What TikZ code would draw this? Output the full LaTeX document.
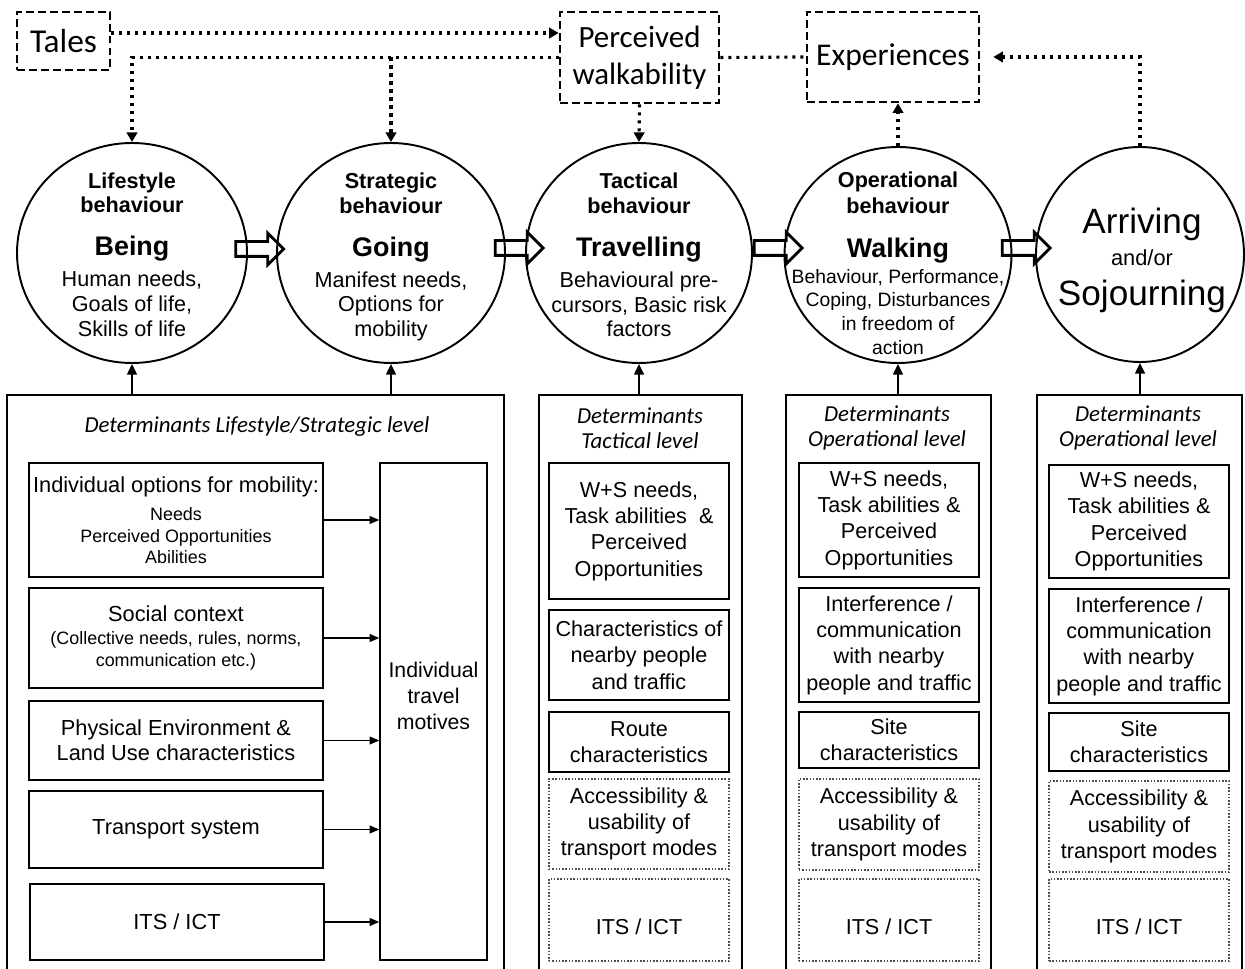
\documentclass[tikz,border=0pt]{standalone}
\usepackage{fontspec}
\setmainfont{Liberation Sans}
\newfontfamily\calibri{Carlito}
\usepackage{xcolor}
\usepackage{tikz}
\usetikzlibrary{positioning, shapes.geometric, shapes.arrows, arrows.meta}
\definecolor{grisPunto}{HTML}{4D4D4D}

\begin{document}
\begin{tikzpicture}[
    level/.style={ellipse, draw, line width=1.1pt, inner sep=0pt},
    leveltext/.style={align=center, font=\fontsize{12.3}{14}\selectfont},
    story/.style={
        rectangle,
        draw,
        line width=1.5pt,
        dash pattern=on 4.5pt off 2.3pt,
        align=center,
        inner sep=0pt,
    },
    outer/.style={rectangle, draw, line width=1.1pt, minimum height=11.55cm},
    heading/.style={align=center, font=\calibri\itshape\fontsize{13}{14.2}\selectfont},
    factor/.style={rectangle, draw, line width=0.85pt, align=center, inner sep=0pt},
    leftfactor/.style={factor, minimum width=5.88cm, font=\fontsize{12.4}{14.2}\selectfont},
    colfactor/.style={factor, minimum width=3.6cm, font=\fontsize{12.3}{15}\selectfont},
    weak/.style={colfactor, draw=grisPunto, densely dotted, line width=0.6pt},
    ictbox/.style={weak, minimum height=1.64cm, text height=17pt},
    flow/.style={
        single arrow,
        draw,
        line width=1.6pt,
        inner xsep=0pt,
        inner ysep=0.12cm,
        single arrow head extend=0.17cm,
        minimum height=0.96cm,
    },
    feed/.style={-{Triangle[length=6pt, width=5.5pt]}, line width=1.1pt},
    input/.style={-{Triangle[length=5.5pt, width=4.5pt]}, line width=0.7pt},
    hint/.style={-{Triangle[length=5.5pt, width=6pt]}, line width=1.8pt, dash pattern=on 1.8pt off 2.75pt},
    hintline/.style={line width=1.8pt, dash pattern=on 1.8pt off 2.75pt},
]
\useasboundingbox (0,0) rectangle (24.9,-19.38);
\clip (0,0) rectangle (24.9,-19.38);

% top boxes
\node[story, minimum width=1.86cm, minimum height=1.16cm, font=\calibri\fontsize{19}{22}\selectfont] (tales) at (1.27,-0.82) {Tales};
\node[story, minimum width=3.18cm, minimum height=1.82cm, font=\calibri\fontsize{17.6}{21}\selectfont] (walk) at (12.79,-1.15) {Perceived\\walkability};
\node[story, minimum width=3.44cm, minimum height=1.80cm, font=\calibri\fontsize{18}{21}\selectfont] (exper) at (17.86,-1.14) {Experiences};

% behaviour levels
\node[level, minimum width=4.6cm,  minimum height=4.4cm]  (c1) at (2.64,-5.06) {};
\node[level, minimum width=4.56cm, minimum height=4.4cm]  (c2) at (7.82,-5.06) {};
\node[level, minimum width=4.52cm, minimum height=4.4cm]  (c3) at (12.78,-5.06) {};
\node[level, minimum width=4.54cm, minimum height=4.32cm] (c4) at (17.96,-5.10) {};
\node[level, minimum width=4.16cm, minimum height=4.3cm]  (c5) at (22.8,-5.09) {};

\node[leveltext] (t1) at (2.64,-5.09) {\textbf{Lifestyle}\\\textbf{behaviour}\\[10.5pt]\textbf{\fontsize{15.3}{18}\selectfont Being}\\[3.6pt]Human needs,\\Goals of life,\\Skills of life};
\node[leveltext] (t2) at (7.82,-5.14) {\textbf{Strategic}\\\textbf{behaviour}\\[10.5pt]\textbf{\fontsize{15.3}{18}\selectfont Going}\\[3.6pt]Manifest needs,\\Options for\\mobility};
\node[leveltext] (t3) at (12.78,-5.1) {\textbf{Tactical}\\\textbf{behaviour}\\[10.5pt]\textbf{\fontsize{15.3}{18}\selectfont Travelling}\\[3.6pt]Behavioural pre-\\cursors, Basic risk\\factors};
\node[leveltext, font=\fontsize{11}{13.4}\selectfont] (t4) at (17.96,-5.26) {\textbf{\fontsize{12.3}{14}\selectfont Operational}\\[1.4pt]\textbf{\fontsize{12.3}{14}\selectfont behaviour}\\[11.6pt]\textbf{\fontsize{15.3}{18}\selectfont Walking}\\[1.4pt]Behaviour, Performance,\\Coping, Disturbances\\in freedom of\\action};
\node[leveltext, font=\fontsize{20}{18.2}\selectfont] (t5) at (22.84,-5.2) {Arriving\\\fontsize{12.4}{15}\selectfont and/or\\[4.6pt]Sojourning};

\node[flow] (f12) at (5.12,-4.98) {};
\node[flow] (f23) at (10.31,-4.96) {};
\node[flow] (f34) at (15.49,-4.96) {};
\node[flow] (f45) at (20.45,-4.96) {};

% dotted links
\coordinate (talesrow) at (0,-0.66);
\draw[hint] (tales.east |- talesrow) -- (walk.west |- talesrow);
\draw[hint] (walk.west) -| (c1.north);
\draw[hint] (c2.north |- walk.west) -- (c2.north);
\draw[hintline] (walk.east) -- (exper.west);
\draw[hint] (walk.south) -- (c3.north);
\draw[hint] (c4.north) -- (c4.north |- exper.south);
\draw[hint, shorten >=0.26cm] (c5.north) |- (exper.east);

% determinants
\node[outer, minimum width=9.94cm] (boxA) at (5.11,-13.675) {};
\node[outer, minimum width=4.06cm] (boxC) at (12.81,-13.675) {};
\node[outer, minimum width=4.1cm]  (boxD) at (17.77,-13.675) {};
\node[outer, minimum width=4.1cm]  (boxE) at (22.79,-13.675) {};

\node[heading] (hA) at (5.14,-8.54)  {Determinants Lifestyle/Strategic level};
\node[heading] (hC) at (12.8,-8.56)  {Determinants\\Tactical level};
\node[heading] (hD) at (17.74,-8.56) {Determinants\\Operational level};
\node[heading] (hE) at (22.76,-8.56) {Determinants\\Operational level};

\draw[feed] (c1.south |- boxA.north) -- (c1.south);
\draw[feed] (c2.south |- boxA.north) -- (c2.south);
\draw[feed] (c3.south |- boxC.north) -- (c3.south);
\draw[feed] (c4.south |- boxD.north) -- (c4.south);
\draw[feed] (c5.south |- boxE.north) -- (c5.south);

% lifestyle / strategic factors
\node[leftfactor, minimum height=2.28cm, font=\fontsize{10.2}{12}\selectfont] (optA) at (3.52,-10.4) {\fontsize{12.4}{15}\selectfont Individual options for mobility:\\[4.2pt]Needs\\Perceived Opportunities\\Abilities};
\node[leftfactor, minimum height=2.0cm, font=\fontsize{10.2}{12.5}\selectfont] (socA) at (3.52,-12.76) {\fontsize{12.4}{15}\selectfont Social context\\[0.9pt](Collective needs, rules, norms,\\communication etc.)};
\node[leftfactor, minimum height=1.58cm] (physA)  at (3.52,-14.81) {Physical Environment \&\\Land Use characteristics};
\node[leftfactor, minimum height=1.54cm] (transA) at (3.52,-16.59) {Transport system};
\node[leftfactor, minimum height=1.52cm] (itsA)   at (3.54,-18.44) {ITS / ICT};
\node[factor, minimum width=2.14cm, minimum height=9.94cm] (motiv) at (8.67,-14.23) {};
\node[align=center, font=\fontsize{12.1}{14.8}\selectfont] (motivtext) at (8.67,-13.92) {Individual\\travel\\motives};

\draw[input] (optA.east)   -- (optA.east -| motiv.west);
\draw[input] (socA.east)   -- (socA.east -| motiv.west);
\draw[input] (physA.east)  -- (physA.east -| motiv.west);
\draw[input] (transA.east) -- (transA.east -| motiv.west);
\draw[input] (itsA.east)   -- (itsA.east -| motiv.west);

% tactical factors
\node[colfactor, minimum height=2.72cm] (tacNeeds)  at (12.78,-10.62) {W+S needs,\\Task abilities\ \ \&\\Perceived\\Opportunities};
\node[colfactor, minimum height=1.8cm]  (tacPeople) at (12.78,-13.1)  {Characteristics of\\nearby people\\and traffic};
\node[colfactor, minimum height=1.2cm]  (tacRoute)  at (12.78,-14.84) {Route\\characteristics};
\node[weak, minimum height=1.8cm]       (tacAccess) at (12.78,-16.48) {Accessibility \&\\usability of\\transport modes};
\node[ictbox]                           (tacIts)    at (12.78,-18.4)  {ITS / ICT};

% operational factors (walking)
\node[colfactor, minimum height=2.28cm] (opNeeds)  at (17.78,-10.4)  {W+S needs,\\Task abilities \&\\Perceived\\Opportunities};
\node[colfactor, minimum height=2.28cm] (opPeople) at (17.78,-12.9)  {Interference /\\communication\\with nearby\\people and traffic};
\node[colfactor, minimum height=1.12cm] (opSite)   at (17.78,-14.8)  {Site\\characteristics};
\node[weak, minimum height=1.82cm]      (opAccess) at (17.78,-16.49) {Accessibility \&\\usability of\\transport modes};
\node[ictbox]                           (opIts)    at (17.78,-18.4)  {ITS / ICT};

% operational factors (arriving / sojourning)
\node[colfactor, minimum height=2.26cm] (sojNeeds)  at (22.78,-10.43) {W+S needs,\\Task abilities \&\\Perceived\\Opportunities};
\node[colfactor, minimum height=2.28cm] (sojPeople) at (22.78,-12.92) {Interference /\\communication\\with nearby\\people and traffic};
\node[colfactor, minimum height=1.16cm] (sojSite)   at (22.78,-14.84) {Site\\characteristics};
\node[weak, minimum height=1.82cm]      (sojAccess) at (22.78,-16.53) {Accessibility \&\\usability of\\transport modes};
\node[ictbox]                           (sojIts)    at (22.78,-18.4)  {ITS / ICT};

\end{tikzpicture}
\end{document}
